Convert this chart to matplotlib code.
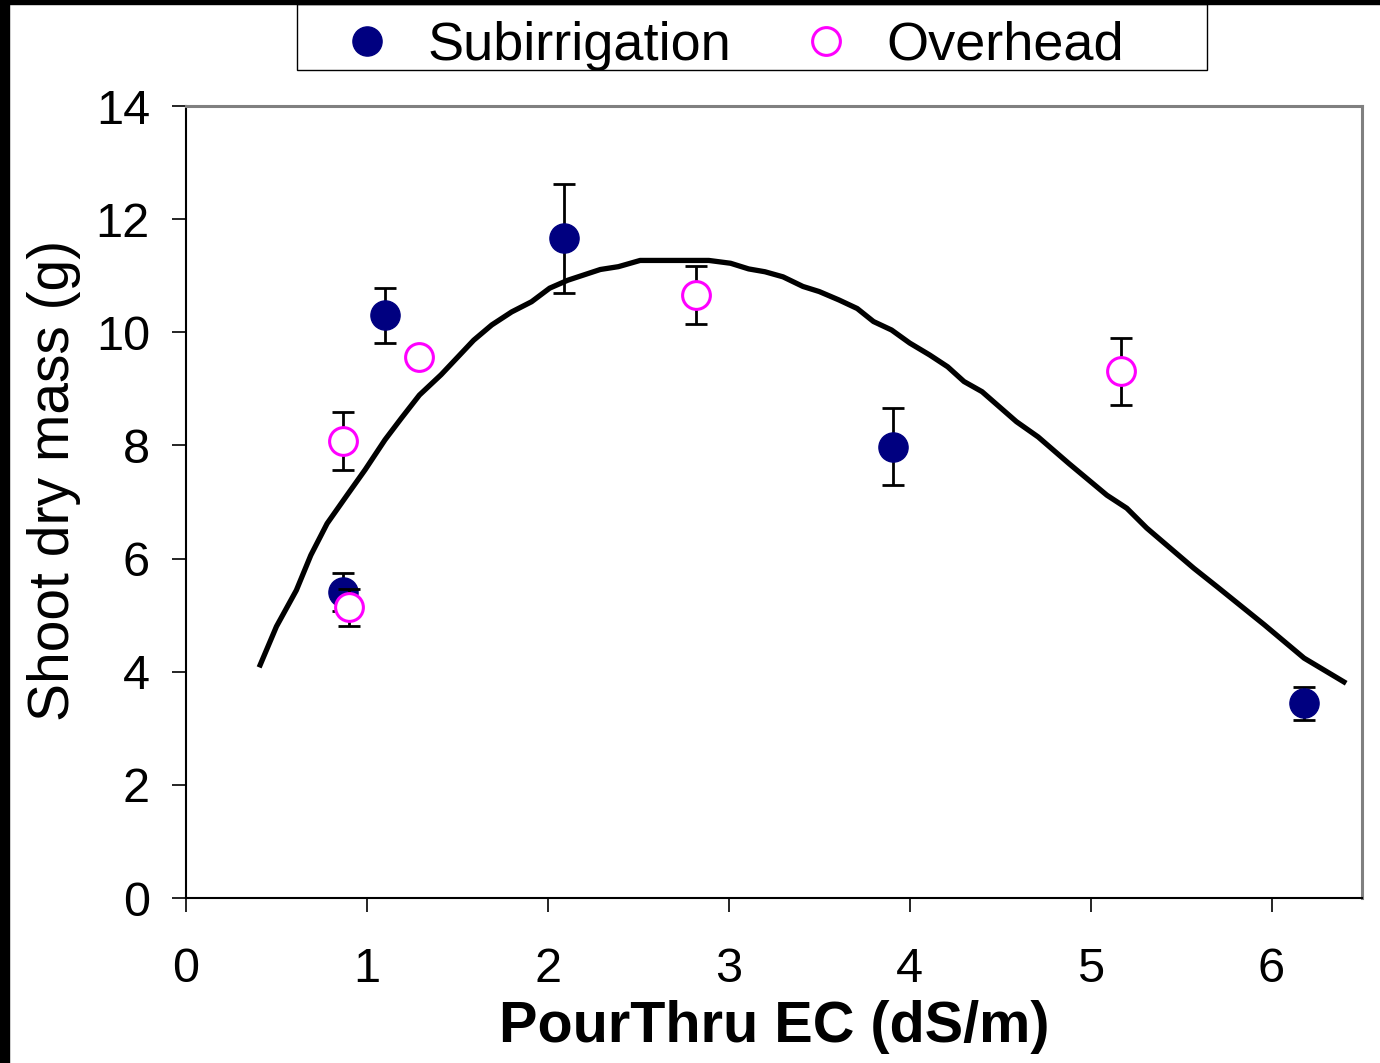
import numpy as np
import matplotlib
matplotlib.use('Agg')
import matplotlib.pyplot as plt
from matplotlib.patches import Rectangle

plt.rcParams['font.family'] = ['Liberation Sans', 'DejaVu Sans']

# Subirrigation (filled)
sub_x = [0.87, 1.10, 2.09, 3.91, 6.18]
sub_y = [5.41, 10.30, 11.66, 7.98, 3.44]
sub_err = [0.33, 0.49, 0.97, 0.68, 0.29]

# Overhead (open)
ovh_x = [0.87, 0.90, 1.29, 2.82, 5.17]
ovh_y = [8.08, 5.14, 9.57, 10.66, 9.31]
ovh_err = [0.51, 0.33, 0.15, 0.52, 0.59]

# fitted curve
fit_x = [0.41, 0.50, 0.61, 0.69, 0.78, 0.89, 0.99, 1.10, 1.19, 1.29, 1.41, 1.59,
         1.69, 1.80, 1.91, 2.01, 2.11, 2.29, 2.39, 2.51, 2.89, 3.01, 3.11, 3.20,
         3.30, 3.41, 3.50, 3.61, 3.71, 3.80, 3.90, 4.00, 4.11, 4.21, 4.30, 4.40,
         4.59, 4.71, 4.88, 5.09, 5.20, 5.31, 5.57, 5.70, 5.96, 6.18, 6.29, 6.40]
fit_y = [4.12, 4.80, 5.44, 6.06, 6.62, 7.12, 7.57, 8.10, 8.48, 8.89, 9.25, 9.86,
         10.13, 10.36, 10.54, 10.78, 10.92, 11.11, 11.16, 11.27, 11.27, 11.22, 11.12, 11.07,
         10.98, 10.81, 10.72, 10.57, 10.42, 10.19, 10.04, 9.81, 9.60, 9.39, 9.13, 8.95,
         8.42, 8.15, 7.68, 7.12, 6.89, 6.54, 5.83, 5.50, 4.83, 4.24, 4.03, 3.82]

fig = plt.figure(figsize=(13.8, 10.63), dpi=100)
ax = fig.add_axes([186/1380, 165/1063, 1176/1380, 792/1063])

# black edge strips of the original screenshot
fig.patches.append(Rectangle((0, 0), 9/1380, 1, transform=fig.transFigure, color='black', zorder=0))
fig.patches.append(Rectangle((0, 1 - 4/1063), 1, 4/1063, transform=fig.transFigure, color='black', zorder=0))

ax.plot(fit_x, fit_y, color='black', lw=3.8, zorder=2, solid_joinstyle='round')

ax.errorbar(sub_x, sub_y, yerr=sub_err, fmt='none', ecolor='black', elinewidth=2,
            capsize=8, capthick=2, zorder=3)
h1, = ax.plot(sub_x, sub_y, 'o', color='#000080', ms=21, mec='#000080', zorder=4,
              label='Subirrigation')
ax.errorbar(ovh_x, ovh_y, yerr=ovh_err, fmt='none', ecolor='black', elinewidth=2,
            capsize=8, capthick=2, zorder=5)
h2, = ax.plot(ovh_x, ovh_y, 'o', mfc='white', mec='#ff00ff', mew=2.2, ms=20, zorder=6,
              label='Overhead')

ax.set_xlim(0, 6.5)
ax.set_ylim(0, 14)
ax.set_xticks(range(0, 7))
ax.set_yticks(range(0, 15, 2))
ax.tick_params(axis='both', direction='out', length=10, width=1.2, labelsize=35, colors='black')
ax.tick_params(axis='x', pad=25)
ax.tick_params(axis='y', pad=16)

for s in ['left', 'bottom']:
    ax.spines[s].set_color('black')
    ax.spines[s].set_linewidth(1.5)
for s in ['top', 'right']:
    ax.spines[s].set_color('#808080')
    ax.spines[s].set_linewidth(2.2)

ax.set_ylabel('Shoot dry mass (g)', fontsize=41)
ax.yaxis.set_label_coords(-0.089, 0.527)
ax.set_xlabel('PourThru EC (dS/m)', fontsize=41.5, fontweight='bold', labelpad=6)

# legend box
fig.patches.append(Rectangle((297/1380, 1 - 70/1063), 910/1380, 66/1063, transform=fig.transFigure,
                             fill=False, edgecolor='black', lw=1.0, zorder=1))
fig.legend(handles=[h1, h2], loc='center left', bbox_to_anchor=(337/1380, 1 - 46/1063),
           ncol=2, fontsize=39, frameon=False, borderaxespad=0, borderpad=0,
           handlelength=1.1, handletextpad=0.57, columnspacing=1.2)

fig.savefig('out.png', dpi=100, facecolor='white')
